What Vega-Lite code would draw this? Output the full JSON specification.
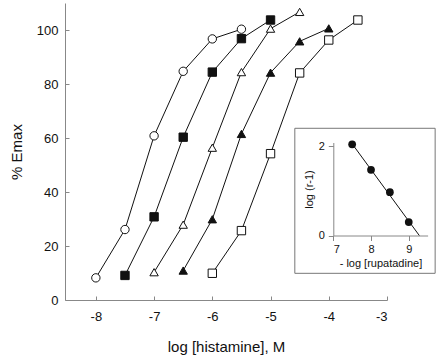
{
  "$schema": "https://vega.github.io/schema/vega-lite/v6.json",
  "width": 322,
  "height": 297,
  "autosize": "none",
  "padding": {"left": 65, "top": 3, "right": 53, "bottom": 57},
  "config": {
    "view": {"stroke": null},
    "font": "Liberation Sans",
    "axis": {"grid": false, "domainColor": "#888888", "tickColor": "#888888", "labelColor": "#111111", "titleColor": "#111111", "labelFont": "Liberation Sans", "titleFont": "Liberation Sans", "titleFontWeight": "normal"}
  },
  "datasets": {
    "curves": [
      {"series": "s1", "x": -8, "y": 8.2}, {"series": "s1", "x": -7.5, "y": 26.1}, {"series": "s1", "x": -7, "y": 60.8}, {"series": "s1", "x": -6.5, "y": 84.7}, {"series": "s1", "x": -6, "y": 96.7}, {"series": "s1", "x": -5.5, "y": 100.3},
      {"series": "s2", "x": -7.5, "y": 9.1}, {"series": "s2", "x": -7, "y": 30.8}, {"series": "s2", "x": -6.5, "y": 60.3}, {"series": "s2", "x": -6, "y": 84.4}, {"series": "s2", "x": -5.5, "y": 96.8}, {"series": "s2", "x": -5, "y": 103.7},
      {"series": "s3", "x": -7, "y": 10.3}, {"series": "s3", "x": -6.5, "y": 27.9}, {"series": "s3", "x": -6, "y": 56.4}, {"series": "s3", "x": -5.5, "y": 84.4}, {"series": "s3", "x": -5, "y": 100.5}, {"series": "s3", "x": -4.5, "y": 106.7},
      {"series": "s4", "x": -6.5, "y": 10.9}, {"series": "s4", "x": -6, "y": 29.9}, {"series": "s4", "x": -5.5, "y": 61.5}, {"series": "s4", "x": -5, "y": 84.2}, {"series": "s4", "x": -4.5, "y": 95.8}, {"series": "s4", "x": -4, "y": 100.6},
      {"series": "s5", "x": -6, "y": 9.9}, {"series": "s5", "x": -5.5, "y": 25.7}, {"series": "s5", "x": -5, "y": 54.2}, {"series": "s5", "x": -4.5, "y": 84.1}, {"series": "s5", "x": -4, "y": 96.3}, {"series": "s5", "x": -3.5, "y": 103.7}
    ],
    "schild": [
      {"ix": 7.5, "iy": 2.04}, {"ix": 8, "iy": 1.47}, {"ix": 8.5, "iy": 0.97}, {"ix": 9, "iy": 0.30}
    ],
    "fit": [
      {"ix": 7.5, "iy": 2.05}, {"ix": 9.28, "iy": 0}
    ],
    "box": [
      {"ix": 5.98, "ix2": 9.70, "iy": -0.846, "iy2": 2.398}
    ]
  },
  "layer": [
    {
      "data": {"name": "curves"},
      "encoding": {
        "x": {"field": "x", "type": "quantitative", "scale": {"domain": [-8.53, -3], "nice": false, "zero": false},
              "axis": {"values": [-8, -7, -6, -5, -4, -3], "labelExpr": "'' + datum.value", "title": "log [histamine], M", "labelFontSize": 13, "titleFontSize": 15, "tickSize": -4, "labelPadding": 14, "titlePadding": 16}},
        "y": {"field": "y", "type": "quantitative", "scale": {"domain": [0, 110], "nice": false},
              "axis": {"values": [0, 20, 40, 60, 80, 100], "title": "% Emax", "labelFontSize": 13, "titleFontSize": 15, "tickSize": -4, "labelPadding": 11, "titlePadding": 12}}
      },
      "layer": [
        {"mark": {"type": "line", "color": "#111111", "strokeWidth": 1}, "encoding": {"detail": {"field": "series"}, "order": {"field": "x"}}},
        {"mark": {"type": "point", "filled": true, "stroke": "#111111", "strokeWidth": 1, "opacity": 1},
         "encoding": {
           "shape": {"field": "series", "type": "nominal", "scale": {"domain": ["s1", "s2", "s3", "s4", "s5"], "range": ["circle", "square", "triangle-up", "triangle-up", "square"]}, "legend": null},
           "fill": {"field": "series", "type": "nominal", "scale": {"domain": ["s1", "s2", "s3", "s4", "s5"], "range": ["#ffffff", "#111111", "#ffffff", "#111111", "#ffffff"]}, "legend": null},
           "size": {"value": 70}
         }}
      ]
    },
    {
      "encoding": {
        "x": {"field": "ix", "type": "quantitative", "scale": {"domain": [7, 9.5], "range": [268.3, 362.6], "nice": false, "zero": false},
              "axis": {"orient": "bottom", "offset": -64.5, "values": [7, 8, 9], "format": "d", "title": "- log [rupatadine]", "labelFontSize": 11, "titleFontSize": 11, "tickSize": 5, "labelPadding": 3, "titlePadding": 3}},
        "y": {"field": "iy", "type": "quantitative", "scale": {"domain": [0, 2.08], "range": [232.5, 139.5], "nice": false, "zero": false},
              "axis": {"orient": "left", "offset": -268.3, "values": [0, 1, 2], "format": "d", "title": "log (r-1)", "labelFontSize": 11, "titleFontSize": 11, "tickSize": 5, "labelPadding": 4, "titlePadding": 4}}
      },
      "layer": [
        {"data": {"name": "box"}, "mark": {"type": "rect", "filled": false, "stroke": "#777777", "strokeWidth": 1}, "encoding": {"x2": {"field": "ix2"}, "y2": {"field": "iy2"}}},
        {"data": {"name": "fit"}, "mark": {"type": "line", "color": "#111111", "strokeWidth": 1}},
        {"data": {"name": "schild"}, "mark": {"type": "point", "filled": true, "color": "#111111", "opacity": 1, "size": 60}}
      ]
    }
  ],
  "resolve": {"scale": {"x": "independent", "y": "independent"}, "axis": {"x": "independent", "y": "independent"}}
}
